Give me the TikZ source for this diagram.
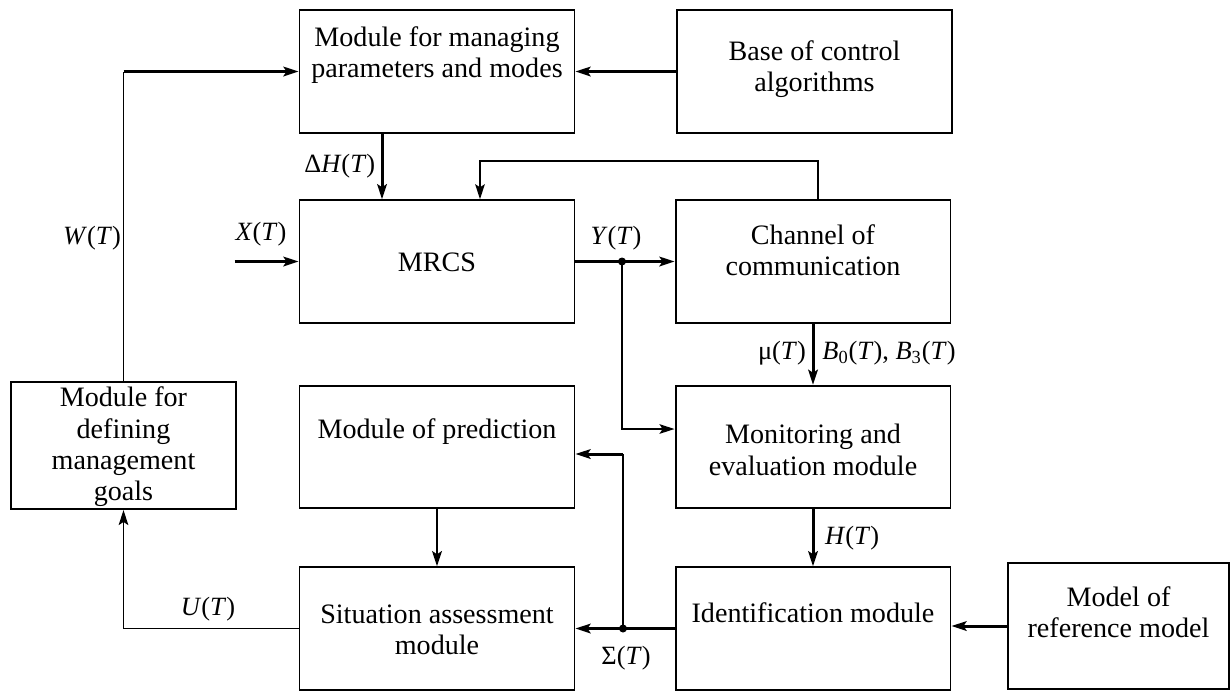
\documentclass[tikz,border=0pt]{standalone}
\usepackage{fontspec}
\setmainfont{Liberation Serif}
\usetikzlibrary{arrows.meta, positioning}
\newcommand{\vT}[1]{\textit{#1}(\textit{T})}

\begin{document}
\begin{tikzpicture}[x=0.02cm, y=-0.02cm,
  box/.style={draw, line width=1.1pt, minimum width=5.5cm, minimum height=2.45cm, inner sep=0pt},
  txt/.style={align=center, font=\rmfamily\fontsize{16}{17.8}\selectfont, inner sep=0pt},
  sig/.style={font=\rmfamily\fontsize{15}{17}\selectfont, inner sep=0pt},
  ln/.style={line width=1.1pt},
  arr/.style={-{Stealth[length=0.3cm, width=0.19cm, inset=0.06cm]}},
  big/.style={line width=1.7pt, arr}]

\useasboundingbox (0,0) rectangle (1230,691);

% blocks
\node[box] (manage) at (437,71.5) {};
\node[box] (base) at (814.5,71.5) {};
\node[box] (mrcs) at (437,261.5) {};
\node[box] (chan) at (813,261.5) {};
\node[box] (monit) at (813,447) {};
\node[box] (ident) at (813,628.5) {};
\node[box] (pred) at (437,447) {};
\node[box] (situ) at (437,628.5) {};
\node[box, minimum width=4.5cm, minimum height=2.54cm] (goals) at (123.5,445.5) {};
\node[box, minimum width=4.42cm, minimum height=2.52cm] (model) at (1118.5,626) {};

% block texts
\node[txt] (manage-t) at (437,55) {Module for managing\\parameters and modes};
\node[txt] (base-t) at (814.5,69) {Base of control\\algorithms};
\node[txt] (mrcs-t) at (437,262) {MRCS};
\node[txt] (chan-t) at (813,250) {Channel of\\communication};
\node[txt] (monit-t) at (813,450) {Monitoring and\\evaluation module};
\node[txt] (ident-t) at (813,613) {Identification module};
\node[txt] (model-t) at (1118.5,612) {Model of\\reference model};
\node[txt] (pred-t) at (437,432) {Module of prediction};
\node[txt] (situ-t) at (437,630) {Situation assessment\\module};
\node[txt] (goals-t) at (123.5,447) {Module for\\defining\\management\\goals};

% top
\draw[big] (base.west) -- (manage.east);
\coordinate (wc) at (goals.north |- manage.west);
\draw[ln] (goals.north) -- (wc);
\draw[big] (wc) -- (manage.west);
\node[sig] (w) at (92,238) {\vT{W}};
\draw[big] ([xshift=-1.1cm]manage.south) -- ([xshift=-1.1cm]mrcs.north)
  node[sig, midway, left=3pt] (dh) {Δ\vT{H}};

% feedback from channel
\draw[ln, arr] ([xshift=0.1cm]chan.north) -- ++(0,-38) -| ([xshift=0.86cm]mrcs.north);

% input and output
\coordinate (xin) at ([xshift=-1.28cm]mrcs.west);
\draw[big] (xin) -- (mrcs.west);
\node[sig] (x) at (261,234) {\vT{X}};
\coordinate (ydot) at (622,261.5);
\draw[big] (mrcs.east) -- (chan.west);
\fill (ydot) circle (0.08cm);
\node[sig] (y) at (616,238) {\vT{Y}};
\draw[ln, arr] (ydot) |- ([yshift=0.36cm]monit.west);

% right column
\draw[big] (chan.south) -- (monit.north);
\node[sig] (mu) at (782,353) {μ(\textit{T})};
\node[sig] (b) at (889,353) {\textit{B}\textsubscript{0}(\textit{T}), \textit{B}\textsubscript{3}(\textit{T})};
\draw[big] (monit.south) -- (ident.north) node[sig, midway, right=6pt] (h) {\vT{H}};
\draw[big] (model.west) -- (model.west -| ident.east);

% bottom
\coordinate (sdot) at (623,628.5);
\draw[big] (ident.west) -- (situ.east);
\fill (sdot) circle (0.08cm);
\node[sig] (s) at (626,658) {Σ(\textit{T})};
\coordinate (pe) at ([yshift=-0.14cm]pred.east);
\coordinate (pc) at (pe -| sdot);
\draw[ln] (sdot) -- (pc);
\draw[big] (pc) -- (pe);
\draw[big] (pred.south) -- (situ.north);
\draw[ln, arr] (situ.west) -| (goals.south);
\node[sig] (u) at (208,609) {\vT{U}};

\end{tikzpicture}
\end{document}
